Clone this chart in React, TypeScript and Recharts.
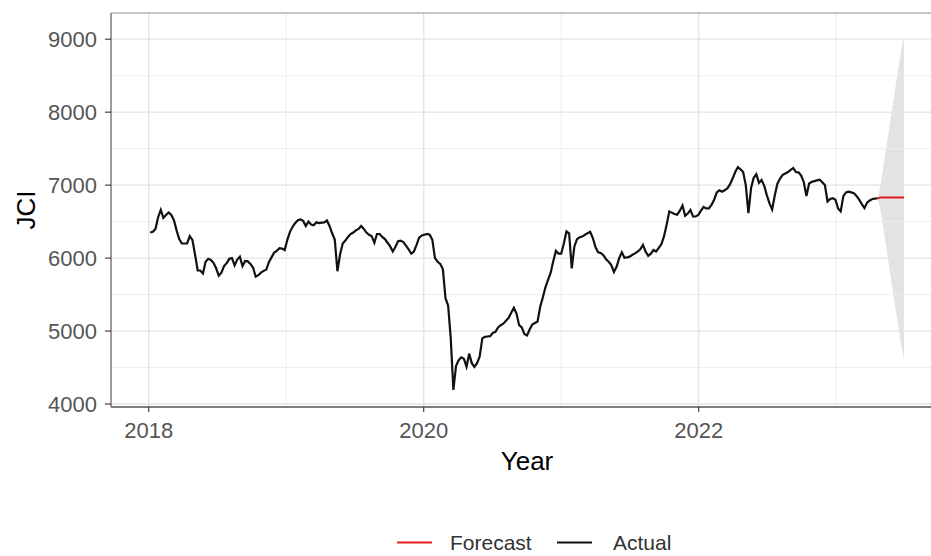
import { ComposedChart, Line, Area, XAxis, YAxis, ReferenceLine } from 'recharts'

// weekly closes (Friday), first week 2018-01-05
const jci2018 = [6350, 6360, 6400, 6560, 6660, 6550, 6590, 6625, 6590, 6520, 6380, 6260, 6200, 6200, 6200, 6300, 6250, 6050, 5830, 5830, 5790, 5950, 5990, 5975, 5935, 5860, 5760, 5800, 5890, 5930, 5990, 6000, 5900, 5980, 6020, 5890, 5960, 5955, 5920, 5870, 5745, 5765, 5800, 5825, 5840, 5945, 6010, 6075, 6100, 6135, 6130, 6110]
const jci2019 = [6250, 6360, 6430, 6480, 6520, 6530, 6510, 6440, 6500, 6460, 6450, 6490, 6480, 6485, 6490, 6515, 6440, 6340, 6250, 5820, 6050, 6200, 6240, 6290, 6330, 6350, 6380, 6400, 6440, 6400, 6350, 6320, 6300, 6210, 6330, 6330, 6290, 6260, 6210, 6160, 6090, 6155, 6230, 6240, 6220, 6170, 6120, 6060, 6090, 6180, 6280, 6310]
const jci2020 = [6320, 6330, 6320, 6250, 6000, 5950, 5920, 5850, 5450, 5350, 4900, 4194, 4520, 4600, 4640, 4620, 4510, 4690, 4560, 4510, 4560, 4650, 4900, 4920, 4925, 4930, 4975, 4990, 5050, 5080, 5100, 5140, 5180, 5250, 5320, 5240, 5080, 5050, 4960, 4940, 5020, 5090, 5110, 5130, 5330, 5460, 5600, 5700, 5800, 5960, 6100, 6060]
const jci2021 = [6060, 6200, 6365, 6340, 5860, 6160, 6260, 6285, 6295, 6320, 6340, 6360, 6275, 6150, 6080, 6070, 6040, 5985, 5950, 5905, 5810, 5880, 6000, 6080, 6005, 6010, 6020, 6045, 6065, 6090, 6120, 6180, 6090, 6030, 6060, 6110, 6090, 6140, 6190, 6300, 6460, 6640, 6620, 6605, 6595, 6650, 6720, 6580, 6610, 6660, 6570, 6570, 6590]
const jci2022 = [6650, 6700, 6680, 6680, 6730, 6800, 6900, 6930, 6910, 6930, 6955, 7010, 7090, 7180, 7245, 7215, 7180, 7000, 6615, 6960, 7100, 7150, 7030, 7070, 6990, 6860, 6750, 6665, 6860, 7020, 7090, 7140, 7160, 7180, 7210, 7235, 7180, 7175, 7130, 7040, 6850, 7020, 7045, 7055, 7065, 7075, 7040, 7000, 6775, 6810, 6820, 6800]
const jci2023 = [6680, 6640, 6850, 6900, 6910, 6900, 6890, 6850, 6800, 6740, 6685, 6760, 6790, 6810, 6815, 6820]

// 10-week forecast with its interval
const forecastMean = [6830, 6830, 6830, 6830, 6830, 6830, 6830, 6830, 6830, 6830]
const forecastLower = [6680, 6450, 6210, 5970, 5730, 5500, 5260, 5030, 4800, 4610]
const forecastUpper = [6980, 7210, 7450, 7690, 7930, 8160, 8400, 8630, 8860, 9050]

const xTicks = [2018, 2020, 2022]
const xMinor = [2019, 2021, 2023]
const yTicks = [4000, 5000, 6000, 7000, 8000, 9000]
const yMinor = [4500, 5500, 6500, 7500, 8500]

const X_DOMAIN = [2017.7258, 2023.7695]
const Y_DOMAIN = [3959, 9359]

const START = Date.UTC(2018, 0, 5)
const WEEK = 7 * 86400000

function decimalYear(ms: number) {
  const y = new Date(ms).getUTCFullYear()
  const s = Date.UTC(y, 0, 1)
  const e = Date.UTC(y + 1, 0, 1)
  return y + (ms - s) / (e - s)
}

const actual = [...jci2018, ...jci2019, ...jci2020, ...jci2021, ...jci2022, ...jci2023]
const last = actual.length - 1

type Row = { t: number, actual?: number, forecast?: number, band?: [number, number] }

const data: Row[] = actual.map((v, i) => ({ t: decimalYear(START + i * WEEK), actual: v }))
// forecast joins the last observed week
data[last].forecast = actual[last]
data[last].band = [actual[last], actual[last]]
forecastMean.forEach((m, h) => {
  data.push({
    t: decimalYear(START + (last + 1 + h) * WEEK),
    forecast: m,
    band: [forecastLower[h], forecastUpper[h]],
  })
})

const FONT = "'Liberation Sans', Arial, Helvetica, sans-serif"

export default function App() {
  return (
    <div style={{ position: 'absolute', left: 0, top: 0, width: 931, height: 556, overflow: 'hidden', background: '#fff', fontFamily: FONT }}>
      <ComposedChart width={950} height={556} data={data} margin={{ top: 13, right: 8, bottom: 109, left: 0 }}>
        <XAxis
          dataKey="t"
          type="number"
          domain={X_DOMAIN}
          allowDataOverflow
          ticks={xTicks}
          tickFormatter={(v) => String(v)}
          height={40}
          tickSize={5}
          tickMargin={10}
          tick={{ fill: '#555', fontSize: 22 }}
          tickLine={{ stroke: '#333', strokeWidth: 1.1 }}
          axisLine={{ stroke: '#555', strokeWidth: 1.3 }}
        />
        <YAxis
          type="number"
          domain={Y_DOMAIN}
          allowDataOverflow
          ticks={yTicks}
          width={111}
          tickSize={6}
          tickMargin={8}
          tick={{ fill: '#555', fontSize: 22 }}
          tickLine={{ stroke: '#333', strokeWidth: 1.1 }}
          axisLine={{ stroke: '#666', strokeWidth: 1.3 }}
        />
        {yMinor.map(v => <ReferenceLine key={'yn' + v} y={v} stroke="#ededed" strokeWidth={1} />)}
        {xMinor.map(v => <ReferenceLine key={'xn' + v} x={v} stroke="#ededed" strokeWidth={1} />)}
        {yTicks.map(v => <ReferenceLine key={'ym' + v} y={v} stroke="#e3e3e3" strokeWidth={1.3} />)}
        {xTicks.map(v => <ReferenceLine key={'xm' + v} x={v} stroke="#e3e3e3" strokeWidth={1.3} />)}
        <ReferenceLine y={Y_DOMAIN[1]} stroke="#8f8f8f" strokeWidth={1.2} ifOverflow="visible" />
        <Area dataKey="band" stroke="none" fill="#e3e3e3" fillOpacity={1} isAnimationActive={false} />
        <Line dataKey="actual" type="linear" stroke="#111" strokeWidth={2.2} dot={false} isAnimationActive={false} />
        <Line dataKey="forecast" type="linear" stroke="#e41a1c" strokeWidth={2.2} dot={false} isAnimationActive={false} />
      </ComposedChart>

      <svg width={931} height={556} style={{ position: 'absolute', left: 0, top: 0, pointerEvents: 'none' }} fontFamily={FONT}>
        <text transform="translate(35,210) rotate(-90)" textAnchor="middle" fontSize={26} fill="#000">JCI</text>
        <text x={527} y={470} textAnchor="middle" fontSize={26} fill="#000">Year</text>
        <line x1={397} x2={432} y1={542.5} y2={542.5} stroke="#e41a1c" strokeWidth={2.2} />
        <text x={450} y={550} fontSize={21} fill="#333">Forecast</text>
        <line x1={557} x2={592} y1={542.5} y2={542.5} stroke="#111" strokeWidth={2.2} />
        <text x={613} y={550} fontSize={21} fill="#333">Actual</text>
      </svg>
    </div>
  )
}
